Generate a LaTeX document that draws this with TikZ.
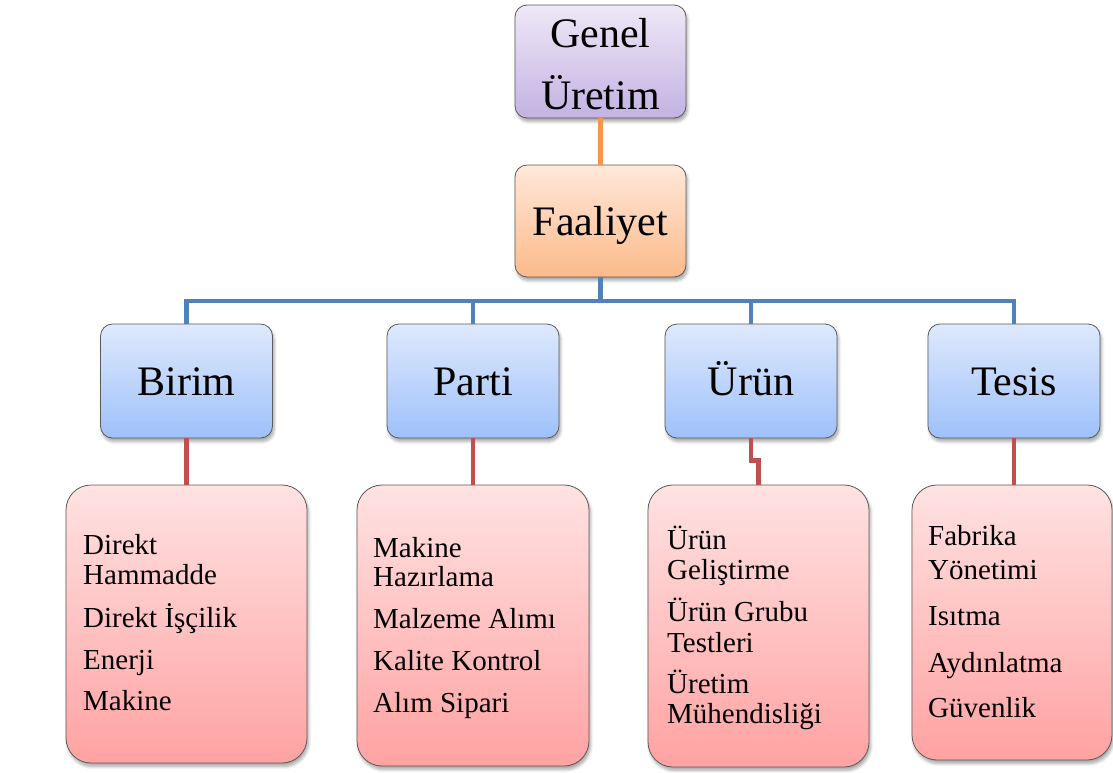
\documentclass[tikz,border=0pt]{standalone}
\usepackage{fontspec}
\setmainfont{Liberation Serif}
\usetikzlibrary{shadows.blur}

\definecolor{edgegray}{RGB}{90,90,90}
\definecolor{purpletop}{RGB}{238,232,247}
\definecolor{purplebot}{RGB}{195,178,227}
\definecolor{orangetop}{RGB}{255,232,217}
\definecolor{orangebot}{RGB}{252,186,138}
\definecolor{bluetop}{RGB}{222,233,253}
\definecolor{bluebot}{RGB}{158,193,250}
\definecolor{pinktop}{RGB}{255,226,226}
\definecolor{pinkbot}{RGB}{255,162,162}
\definecolor{orangeline}{RGB}{247,150,70}
\definecolor{blueline}{RGB}{79,129,189}
\definecolor{redline}{RGB}{192,80,77}

\begin{document}
\begin{tikzpicture}[x=1pt,y=-1pt,
  box/.style={draw=edgegray, line width=0.8pt, inner sep=0pt,
    blur shadow={shadow xshift=1.5pt, shadow yshift=-3.5pt,
      shadow blur radius=3pt, shadow blur steps=6, shadow opacity=35}},
  headbox/.style={box, rounded corners=12pt, font=\fontsize{42}{62}\selectfont,
    align=center},
  oneline/.style={text height=28pt, text depth=0pt},
  purplebox/.style={headbox, top color=purpletop, bottom color=purplebot,
    minimum width=171pt, minimum height=113pt},
  orangebox/.style={headbox, oneline, top color=orangetop, bottom color=orangebot,
    minimum width=171pt, minimum height=112pt},
  bluebox/.style={headbox, oneline, top color=bluetop, bottom color=bluebot,
    minimum width=172pt, minimum height=114pt},
  pinkbox/.style={box, rounded corners=25pt, top color=pinktop, bottom color=pinkbot},
  item/.style={font=\fontsize{29}{30}\selectfont, anchor=base west, inner sep=0pt},
  link/.style={line width=4.6pt},
]
\useasboundingbox (0,0) rectangle (1113,772);

% top of the hierarchy
\node[purplebox] (genel) at (600.5,61.5)
  {\rule{0pt}{35pt}Genel\\Üretim};
\node[orangebox] (faaliyet) at (600.5,221) {Faaliyet};

% second level
\node[bluebox] (birim) at (186.5,381) {Birim};
\node[bluebox] (parti) at (473,381) {Parti};
\node[bluebox] (urun)  at (751,381) {Ürün};
\node[bluebox] (tesis) at (1014,381) {Tesis};

% cost item boxes
\node[pinkbox, minimum width=241pt, minimum height=278pt] (kb) at (186.5,624) {};
\node[pinkbox, minimum width=232pt, minimum height=281pt] (kp) at (473,625.5) {};
\node[pinkbox, minimum width=221pt, minimum height=282pt] (ku) at (758.5,626) {};
\node[pinkbox, minimum width=200pt, minimum height=275pt] (kt) at (1012,622.5) {};

% connectors
\coordinate (bus) at (600.5,301);
\draw[link, orangeline] (genel.south) -- (faaliyet.north);
\draw[link, blueline, line join=miter] (faaliyet.south) -- (faaliyet.south |- bus);
\draw[link, blueline, line join=miter] (birim.north) -- (birim.north |- bus)
  -- (tesis.north |- bus) -- (tesis.north);
\draw[link, blueline] (parti.north) -- (parti.north |- bus);
\draw[link, blueline] (urun.north) -- (urun.north |- bus);

\draw[link, redline] (birim.south) -- (kb.north);
\draw[link, redline] (parti.south) -- (kp.north);
\draw[link, redline, line join=miter] (urun.south) -- ++(0,22) -| (ku.north);
\draw[link, redline] (tesis.south) -- (tesis.south |- kt.north);

% items of the unit level
\node[item] (b1) at (83,554) {Direkt};
\node[item] (b2) at (83,584) {Hammadde};
\node[item] (b3) at (83,627) {Direkt İşçilik};
\node[item] (b4) at (83,669) {Enerji};
\node[item] (b5) at (83,710) {Makine};

% items of the batch level
\node[item] (p1) at (373,557) {Makine};
\node[item] (p2) at (373,586) {Hazırlama};
\node[item] (p3) at (373,628) {Malzeme Alımı};
\node[item] (p4) at (373,670) {Kalite Kontrol};
\node[item] (p5) at (373,712) {Alım Sipari};

% items of the product level
\node[item] (u1) at (667,549) {Ürün};
\node[item] (u2) at (667,579) {Geliştirme};
\node[item] (u3) at (667,621) {Ürün Grubu};
\node[item] (u4) at (667,652) {Testleri};
\node[item] (u5) at (667,693) {Üretim};
\node[item] (u6) at (667,723) {Mühendisliği};

% items of the facility level
\node[item] (t1) at (928,545) {Fabrika};
\node[item] (t2) at (928,579) {Yönetimi};
\node[item] (t3) at (928,625) {Isıtma};
\node[item] (t4) at (928,672) {Aydınlatma};
\node[item] (t5) at (928,717) {Güvenlik};
\end{tikzpicture}
\end{document}
